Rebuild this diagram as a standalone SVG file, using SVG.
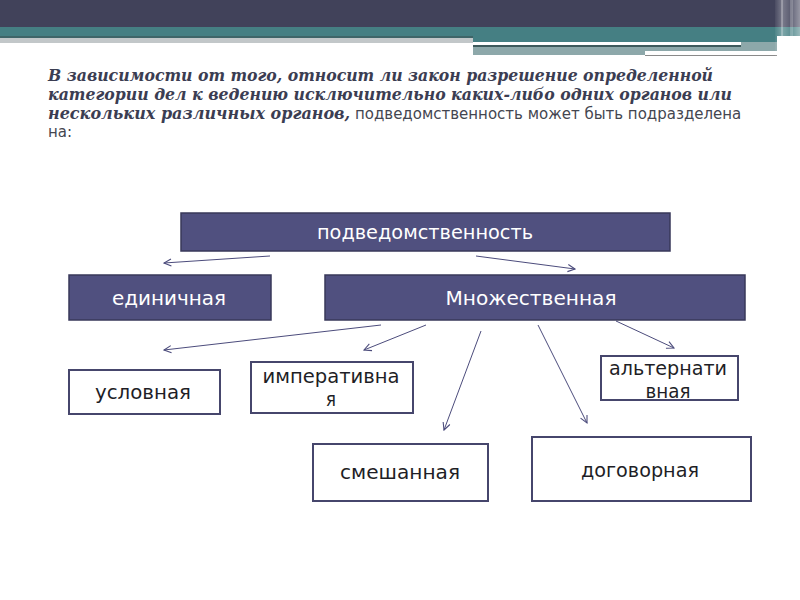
<svg xmlns="http://www.w3.org/2000/svg" width="800" height="600" viewBox="0 0 800 600">
<defs>
<style>
.para-b{font-family:"DejaVu Serif","Liberation Serif",serif;font-weight:bold;font-style:italic;font-size:16px;fill:#3b3d52}
.para-n{font-family:"DejaVu Sans","Liberation Sans",sans-serif;font-size:15px;fill:#444650}
.dark rect{fill:#50507f;stroke:#38385a;stroke-width:1.5}
.dark text{font-family:"DejaVu Sans Condensed","DejaVu Sans",sans-serif;font-size:20px;fill:#ffffff;text-anchor:middle}
.light rect{fill:#ffffff;stroke:#46466c;stroke-width:2}
.light text{font-family:"DejaVu Sans Condensed","DejaVu Sans",sans-serif;font-size:19px;fill:#1e1e26;text-anchor:middle}
.conn line{stroke:#4c4c7c;stroke-width:1;marker-end:url(#arr)}
</style>
<marker id="arr" viewBox="0 0 10 10" refX="9" refY="5" markerWidth="9" markerHeight="9" markerUnits="userSpaceOnUse" orient="auto">
<path d="M1,1 L9,5 L1,9" fill="none" stroke="#4c4c7c" stroke-width="1.2"/>
</marker>
<linearGradient id="edge" x1="0" y1="0" x2="1" y2="0">
<stop offset="0" stop-color="#ffffff" stop-opacity="0.05"/>
<stop offset="0.3" stop-color="#ffffff" stop-opacity="0.3"/>
<stop offset="0.6" stop-color="#ffffff" stop-opacity="0.15"/>
<stop offset="1" stop-color="#ffffff" stop-opacity="0.45"/>
</linearGradient>
</defs>
<rect width="800" height="600" fill="#ffffff"/>
<g id="header">
<rect x="0" y="0" width="800" height="27" fill="#41425a"/>
<rect x="0" y="27" width="800" height="9" fill="#457f83"/>
<rect x="0" y="36" width="473" height="2" fill="#3f6568"/>
<rect x="0" y="38" width="473" height="5" fill="#c2c7c9"/>
<rect x="473" y="36" width="304" height="6" fill="#457f83"/>
<rect x="473" y="42" width="304" height="13" fill="#8da8aa"/>
<rect x="473" y="42" width="268" height="3" fill="#ffffff"/>
<rect x="473" y="45" width="268" height="2" fill="#3e5a5c"/>
<rect x="645" y="51" width="132" height="4" fill="#ffffff"/>
<rect x="645" y="55" width="132" height="1" fill="#8a8a8a"/>
<rect x="775" y="0" width="25" height="56" fill="url(#edge)"/>
<rect x="781" y="0" width="2" height="56" fill="#ffffff" fill-opacity="0.25"/>
<rect x="790" y="0" width="3" height="56" fill="#ffffff" fill-opacity="0.2"/>
</g>
<g id="paragraph">
<text class="para-b" x="48" y="81" textLength="665" lengthAdjust="spacingAndGlyphs">В зависимости от того, относит ли закон разрешение определенной</text>
<text class="para-b" x="48" y="100" textLength="684" lengthAdjust="spacingAndGlyphs">категории дел к ведению исключительно каких-либо одних органов или</text>
<text x="48" y="119"><tspan class="para-b">нескольких различных органов,</tspan><tspan class="para-n"> подведомственность может быть подразделена</tspan></text>
<text class="para-n" x="48" y="137">на:</text>
</g>
<g id="connectors" class="conn">
<line x1="270" y1="256" x2="164" y2="263"/>
<line x1="476" y1="256" x2="575" y2="269"/>
<line x1="381" y1="325" x2="164" y2="350"/>
<line x1="426" y1="325" x2="364" y2="350"/>
<line x1="481" y1="331" x2="444" y2="430"/>
<line x1="538" y1="325" x2="587" y2="423"/>
<line x1="616" y1="321" x2="674" y2="348"/>
</g>
<g id="node-root" class="dark">
<rect x="181" y="213" width="489" height="38"/>
<text x="425" y="239" textLength="216" lengthAdjust="spacingAndGlyphs">подведомственность</text>
</g>
<g id="node-single" class="dark">
<rect x="69" y="275" width="202" height="45"/>
<text x="169" y="305" textLength="114" lengthAdjust="spacingAndGlyphs">единичная</text>
</g>
<g id="node-multiple" class="dark">
<rect x="325" y="275" width="420" height="45"/>
<text x="531" y="305" textLength="171" lengthAdjust="spacingAndGlyphs">Множественная</text>
</g>
<g id="node-conditional" class="light">
<rect x="69" y="370" width="151" height="44"/>
<text x="143" y="399" textLength="96" lengthAdjust="spacingAndGlyphs">условная</text>
</g>
<g id="node-imperative" class="light">
<rect x="251" y="362" width="162" height="51"/>
<text x="331" y="383" textLength="137" lengthAdjust="spacingAndGlyphs">императивна</text>
<text x="331" y="406">я</text>
</g>
<g id="node-alternative" class="light">
<rect x="601" y="356" width="137" height="44"/>
<text x="668" y="375" textLength="118" lengthAdjust="spacingAndGlyphs">альтернати</text>
<text x="668" y="398" textLength="45" lengthAdjust="spacingAndGlyphs">вная</text>
</g>
<g id="node-mixed" class="light">
<rect x="313" y="444" width="175" height="57"/>
<text x="400" y="479" textLength="120" lengthAdjust="spacingAndGlyphs">смешанная</text>
</g>
<g id="node-contract" class="light">
<rect x="532" y="437" width="219" height="64"/>
<text x="640" y="477" textLength="118" lengthAdjust="spacingAndGlyphs">договорная</text>
</g>
</svg>
